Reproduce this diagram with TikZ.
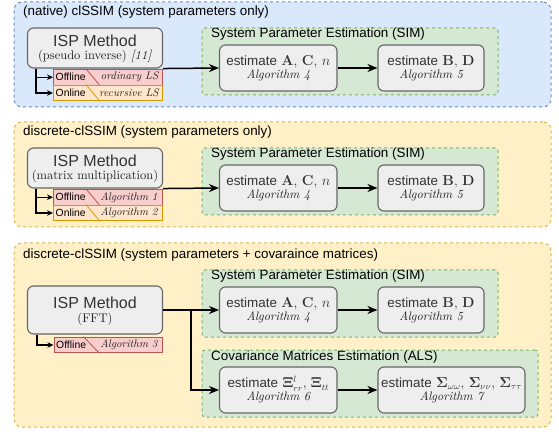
\documentclass[tikz,border=0pt]{standalone}
\usepackage[no-math]{fontspec}
\setmainfont{lmroman10-regular.otf}[
  ItalicFont=lmroman10-italic.otf,
  BoldFont=lmroman10-bold.otf,
  BoldItalicFont=lmroman10-bolditalic.otf]
\setsansfont{Liberation Sans}
\usetikzlibrary{arrows.meta,calc}

\definecolor{blueFill}{HTML}{DAE8FC}
\definecolor{blueLine}{HTML}{6C8EBF}
\definecolor{yelFill}{HTML}{FFF0C8}
\definecolor{yelLine}{HTML}{D6B656}
\definecolor{grnFill}{HTML}{D5E8D4}
\definecolor{grnLine}{HTML}{82B366}
\definecolor{boxFill}{HTML}{EEEEEE}
\definecolor{boxLine}{HTML}{666666}
\definecolor{offFill}{HTML}{F8CECC}
\definecolor{offLine}{HTML}{B85450}
\definecolor{onFill}{HTML}{FFE6CC}
\definecolor{onLine}{HTML}{D79B00}
\definecolor{ink}{HTML}{333333}
\definecolor{serifink}{HTML}{222222}

\newcommand\algtext[1]{{\fontsize{12.3}{13}\selectfont\itshape\color{serifink}#1}}

\tikzset{
  panel/.style={draw, dash pattern=on 3pt off 3pt, line width=1pt,
    rounded corners=8pt, inner sep=0, minimum width=537pt},
  bluepanel/.style={panel, fill=blueFill, draw=blueLine},
  yelpanel/.style={panel, fill=yelFill, draw=yelLine},
  simgroup/.style={draw=grnLine, fill=grnFill, dash pattern=on 3pt off 3pt,
    line width=1pt, rounded corners=3pt, inner sep=0, minimum height=67pt},
  ptitle/.style={anchor=west, inner sep=0, text=black,
    font=\fontsize{13.4}{16}\selectfont\sffamily},
  est/.style={draw=boxLine, fill=boxFill, line width=1.1pt, rounded corners=6pt,
    align=center, text=ink, minimum height=46pt, inner sep=0,
    font=\fontsize{13.4}{14}\selectfont},
  ispbox/.style={draw=boxLine, fill=boxFill, line width=1.1pt, rounded corners=6pt,
    minimum width=135pt, inner sep=0},
  isptitle/.style={inner sep=0, text=ink, font=\fontsize{16}{18}\selectfont\sffamily},
  ispsub/.style={inner sep=0, text=serifink, font=\fontsize{12.5}{14}\selectfont},
  tagbox/.style={line width=1pt, minimum width=109pt, minimum height=15.75pt, inner sep=0},
  offbox/.style={tagbox, draw=offLine, fill=offFill},
  onbox/.style={tagbox, draw=onLine, fill=onFill},
  taglabel/.style={anchor=west, inner sep=0, text=black,
    font=\fontsize{10.4}{12}\selectfont\sffamily},
  tagtext/.style={inner sep=0, text=serifink, font=\fontsize{11}{13}\selectfont\itshape},
  mainarrow/.style={draw=black, line width=1.5pt, -{Stealth[length=10pt,width=8pt]}},
  smallarrow/.style={draw=black, line width=1.2pt, -{Stealth[length=6pt,width=5.5pt]}},
}

\begin{document}
\begin{tikzpicture}[x=1pt,y=-1pt]
\useasboundingbox (0,0) rectangle (559,435);

% ---------- outer panels ----------
\node[bluepanel, minimum height=105pt] (p1) at (282.5,54.5) {};
\node[yelpanel, minimum height=105pt] (p2) at (282.5,174.5) {};
\node[yelpanel, minimum height=184pt] (p3) at (282.5,335) {};
\node[ptitle] (p1t) at (23,12.5) {(native) clSSIM (system parameters only)};
\node[ptitle] (p2t) at (23,132.5) {discrete-clSSIM (system parameters only)};
\node[ptitle] (p3t) at (23,255) {discrete-clSSIM (system parameters + covaraince matrices)};

% ---------- estimation groups ----------
\node[simgroup, minimum width=296pt] (g1) at (350,61.5) {};
\node[ptitle] (g1t) at (211,34.5) {System Parameter Estimation (SIM)};
\node[simgroup, minimum width=296pt] (g2) at (350,181.5) {};
\node[ptitle] (g2t) at (211,154.5) {System Parameter Estimation (SIM)};
\node[simgroup, minimum width=296pt] (g3) at (350,303.5) {};
\node[ptitle] (g3t) at (211,276) {System Parameter Estimation (SIM)};
\node[simgroup, minimum width=336pt] (g4) at (370,383.5) {};
\node[ptitle] (g4t) at (211,357) {Covariance Matrices Estimation (ALS)};

% ---------- estimation steps ----------
\node[est, minimum width=117.5pt] (a1) at (278.25,68)
  {{\sffamily estimate} $\mathbf{A}$, $\mathbf{C}$, $n$\\[-1pt]\algtext{Algorithm 4}};
\node[est, minimum width=106pt] (b1) at (431,68)
  {{\sffamily estimate} $\mathbf{B}$, $\mathbf{D}$\\[-1pt]\algtext{Algorithm 5}};
\node[est, minimum width=117.5pt] (a2) at (278.25,188)
  {{\sffamily estimate} $\mathbf{A}$, $\mathbf{C}$, $n$\\[-1pt]\algtext{Algorithm 4}};
\node[est, minimum width=106pt] (b2) at (431,188)
  {{\sffamily estimate} $\mathbf{B}$, $\mathbf{D}$\\[-1pt]\algtext{Algorithm 5}};
\node[est, minimum width=117.5pt] (a3) at (278.25,310)
  {{\sffamily estimate} $\mathbf{A}$, $\mathbf{C}$, $n$\\[-1pt]\algtext{Algorithm 4}};
\node[est, minimum width=106pt] (b3) at (431,310)
  {{\sffamily estimate} $\mathbf{B}$, $\mathbf{D}$\\[-1pt]\algtext{Algorithm 5}};
\node[est, minimum width=117.5pt] (x3) at (278.25,390)
  {{\sffamily estimate} $\mathbf{\Xi}^{l}_{rr}$, $\mathbf{\Xi}_{tt}$\\[-1pt]\algtext{Algorithm 6}};
\node[est, minimum width=147pt] (s3) at (451.5,390)
  {{\sffamily estimate} $\mathbf{\Sigma}_{\omega\omega}$, $\mathbf{\Sigma}_{\nu\nu}$, $\mathbf{\Sigma}_{\tau\tau}$\\[-1pt]\algtext{Algorithm 7}};

% ---------- ISP method boxes ----------
\node[ispbox, minimum height=40pt] (isp1) at (95,48) {};
\node[isptitle] (isp1t) at (95,40.7) {ISP Method};
\node[ispsub] (isp1s) at (95,56) {(pseudo inverse) \textit{[11]}};

\node[ispbox, minimum height=40pt] (isp2) at (95,168) {};
\node[isptitle] (isp2t) at (95,160.7) {ISP Method};
\node[ispsub] (isp2s) at (95,176) {(matrix multiplication)};

\node[ispbox, minimum height=48pt] (isp3) at (95,310) {};
\node[isptitle] (isp3t) at (95,303) {ISP Method};
\node[ispsub] (isp3s) at (95,319) {(FFT)};

% ---------- offline / online variants ----------
% panel 1
\node[offbox] (off1) at (108,77.25) {};
\draw[offLine, line width=0.8pt] ($(off1.north west)+(33,0)$) -- ($(off1.south west)+(47,0)$);
\node[taglabel] (off1l) at ($(off1.west)+(2.5,0)$) {Offline};
\node[tagtext] (off1r) at (129.5,77.25) {ordinary LS};
\node[onbox] (on1) at (108,93) {};
\draw[onLine, line width=0.8pt] ($(on1.north west)+(33,0)$) -- ($(on1.south west)+(47,0)$);
\node[taglabel] (on1l) at ($(on1.west)+(2.5,0)$) {Online};
\node[tagtext] (on1r) at (129,93) {recursive LS};
% panel 2
\node[offbox] (off2) at (108,197.25) {};
\draw[offLine, line width=0.8pt] ($(off2.north west)+(33,0)$) -- ($(off2.south west)+(47,0)$);
\node[taglabel] (off2l) at ($(off2.west)+(2.5,0)$) {Offline};
\node[tagtext] (off2r) at (129,197.25) {Algorithm 1};
\node[onbox] (on2) at (108,213) {};
\draw[onLine, line width=0.8pt] ($(on2.north west)+(33,0)$) -- ($(on2.south west)+(47,0)$);
\node[taglabel] (on2l) at ($(on2.west)+(2.5,0)$) {Online};
\node[tagtext] (on2r) at (129,213) {Algorithm 2};
% panel 3
\node[offbox, minimum width=108.5pt] (off3) at (108.25,345) {};
\draw[offLine, line width=0.8pt] ($(off3.north west)+(30,0)$) -- ($(off3.south west)+(46,0)$);
\node[taglabel] (off3l) at ($(off3.west)+(2.5,0)$) {Offline};
\node[tagtext] (off3r) at (129,345) {Algorithm 3};

% ---------- connectors ----------
\coordinate (v1) at ($(isp1.south west)+(9,0)$);
\draw[smallarrow] (v1) |- (off1.west);
\draw[smallarrow] (v1) |- (on1.west);
\coordinate (v2) at ($(isp2.south west)+(9,0)$);
\draw[smallarrow] (v2) |- (off2.west);
\draw[smallarrow] (v2) |- (on2.west);
\coordinate (v3) at ($(isp3.south west)+(10,0)$);
\draw[smallarrow] (v3) |- (off3.west);

\draw[mainarrow] (isp1.south east) -- (a1.west);
\draw[mainarrow] (a1) -- (b1);
\draw[mainarrow] (isp2.south east) -- (a2.west);
\draw[mainarrow] (a2) -- (b2);
\draw[mainarrow] (isp3.east) -- (a3.west);
\coordinate (br3) at (191,310);
\draw[mainarrow] (br3) |- (x3.west);
\draw[mainarrow] (a3) -- (b3);
\draw[mainarrow] (x3) -- (s3);
\end{tikzpicture}
\end{document}
